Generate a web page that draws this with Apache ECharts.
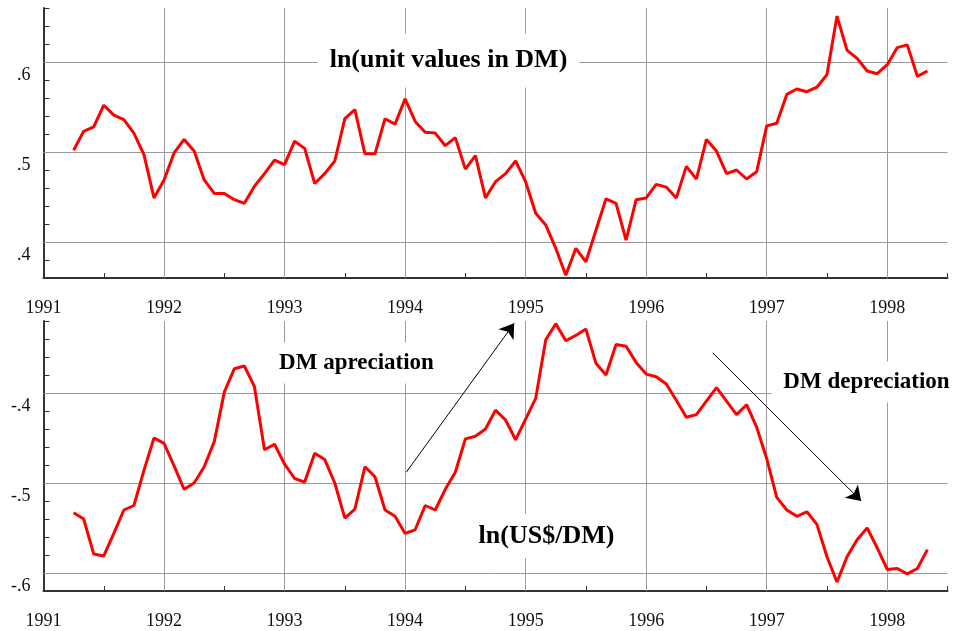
<!DOCTYPE html>
<html><head><meta charset="utf-8">
<script src="https://cdn.jsdelivr.net/npm/echarts@6/dist/echarts.min.js"></script>
<style>html,body{margin:0;padding:0;background:#fff}#c{width:953px;height:631px}</style>
</head><body><div id="c"></div>
<script>
// ---- data ----
const firstYear = 1991, firstMonth = 4; // first observation: April 1991 (monthly)
const xRange = [1991, 1998.5];
const yearLines = [1992, 1993, 1994, 1995, 1996, 1997, 1998];
const topRange = [0.36, 0.66];
const topGrid = [0.4, 0.5, 0.6];
const bottomRange = [-0.62, -0.32];
const bottomGrid = [-0.6, -0.5, -0.4];

const unitValuesDM = [
  0.502, 0.523, 0.528, 0.552, 0.541, 0.536, 0.521, 0.497, 0.449,
  0.469, 0.499, 0.514, 0.501, 0.469, 0.454, 0.454, 0.447, 0.443, 0.462, 0.476, 0.491, 0.486,
  0.512, 0.504, 0.465, 0.476, 0.490, 0.537, 0.547, 0.498, 0.498, 0.537, 0.531, 0.559,
  0.534, 0.522, 0.521, 0.507, 0.516, 0.481, 0.496, 0.449, 0.467, 0.476, 0.490, 0.467,
  0.432, 0.419, 0.393, 0.363, 0.393, 0.378, 0.413, 0.448, 0.443, 0.402, 0.447, 0.449,
  0.464, 0.461, 0.449, 0.484, 0.470, 0.514, 0.501, 0.476, 0.480, 0.470, 0.478, 0.529,
  0.532, 0.564, 0.570, 0.567, 0.572, 0.586, 0.651, 0.613, 0.604, 0.590, 0.587, 0.597,
  0.616, 0.619, 0.584, 0.590
];
const usdPerDM = [
  -0.533, -0.540, -0.579, -0.581, -0.556, -0.530, -0.525, -0.486, -0.450,
  -0.456, -0.481, -0.507, -0.500, -0.482, -0.454, -0.399, -0.373, -0.370, -0.393, -0.463, -0.457, -0.479,
  -0.495, -0.499, -0.467, -0.474, -0.500, -0.539, -0.529, -0.482, -0.493, -0.530, -0.537, -0.556,
  -0.552, -0.525, -0.530, -0.507, -0.488, -0.451, -0.448, -0.440, -0.419, -0.430, -0.452, -0.429,
  -0.406, -0.341, -0.323, -0.342, -0.336, -0.329, -0.367, -0.380, -0.346, -0.348, -0.366, -0.379,
  -0.382, -0.390, -0.408, -0.427, -0.424, -0.409, -0.394, -0.409, -0.424, -0.413, -0.438, -0.473,
  -0.516, -0.530, -0.537, -0.532, -0.546, -0.582, -0.610, -0.582, -0.563, -0.550, -0.572, -0.596,
  -0.595, -0.601, -0.595, -0.574
];
// arrows (data coordinates on lower panel)
const appreciationArrow = [[1994.01, -0.488], [1994.905, -0.3226]];
const depreciationArrow = [[1996.554, -0.3556], [1997.784, -0.52]];

// ---- chart ----
const periods = unitValuesDM.map((_, k) => firstYear + (firstMonth - 1 + k) / 12);
const topPairs = periods.map((x, k) => [x, unitValuesDM[k]]);
const botPairs = periods.map((x, k) => [x, usdPerDM[k]]);

const FONT = "'Liberation Serif', 'Times New Roman', serif";
const AXIS_COLOR = '#333';
const GRID_COLOR = '#9a9a9a';

function xAxis(gridIndex) {
  return {
    type: 'value', gridIndex, min: xRange[0], max: xRange[1], interval: 0.5,
    axisLine: { show: true, onZero: false, lineStyle: { color: AXIS_COLOR, width: 2 } },
    axisTick: { show: true, inside: true, length: 5, lineStyle: { color: AXIS_COLOR, width: 1 } },
    splitLine: { show: false },
    axisLabel: {
      margin: 21, color: '#111', fontFamily: FONT, fontSize: 18,
      formatter: v => Math.abs(v - Math.round(v)) < 1e-6 ? String(Math.round(v)) : ''
    }
  };
}
function yAxis(gridIndex, range, labelled) {
  return {
    type: 'value', gridIndex, min: range[0], max: range[1], interval: 0.02,
    axisLine: { show: true, onZero: false, lineStyle: { color: AXIS_COLOR, width: 2 } },
    axisTick: { show: true, inside: true, length: 6, lineStyle: { color: AXIS_COLOR, width: 1 } },
    splitLine: { show: false },
    axisLabel: {
      margin: 13, color: '#111', fontFamily: FONT, fontSize: 18,
      verticalAlign: 'top', padding: [4, 0, 0, 0],
      formatter: v => {
        const hit = labelled.find(t => Math.abs(t - v) < 1e-6);
        if (hit === undefined) return '';
        const r = Math.round(hit * 10);
        return (r < 0 ? '-' : '') + '.' + Math.abs(r);
      }
    }
  };
}
function gridSeries(xi, yi, pairs, lines) {
  return {
    type: 'line', xAxisIndex: xi, yAxisIndex: yi, data: pairs, silent: true,
    showSymbol: false, lineStyle: { opacity: 0 }, z: 1,
    markLine: {
      silent: true, symbol: 'none', z: 1, animation: false,
      label: { show: false },
      lineStyle: { color: GRID_COLOR, width: 1, type: 'solid' },
      data: lines.map(v => ({ yAxis: v })).concat(yearLines.map(v => ({ xAxis: v })))
    }
  };
}

const chart = echarts.init(document.getElementById('c'), null, { renderer: 'canvas' });
chart.setOption({
  animation: false,
  backgroundColor: '#fff',
  grid: [
    { left: 43.5, right: 5.5, top: 8, height: 270 },
    { left: 43.5, right: 5.5, top: 321, height: 270 }
  ],
  xAxis: [xAxis(0), xAxis(1)],
  yAxis: [yAxis(0, topRange, topGrid), yAxis(1, bottomRange, bottomGrid)],
  series: [
    gridSeries(0, 0, topPairs, topGrid),
    gridSeries(1, 1, botPairs, bottomGrid),
    {
      name: 'ln(unit values in DM)', type: 'line', xAxisIndex: 0, yAxisIndex: 0,
      data: topPairs, showSymbol: false, z: 5,
      lineStyle: { color: '#ff0000', width: 3 }
    },
    {
      name: 'ln(US$/DM)', type: 'line', xAxisIndex: 1, yAxisIndex: 1,
      data: botPairs, showSymbol: false, z: 5,
      lineStyle: { color: '#ff0000', width: 3 },
      markLine: {
        silent: true, z: 6, animation: false,
        symbol: ['none', 'arrow'], symbolSize: 14,
        label: { show: false },
        itemStyle: { color: '#000' },
        lineStyle: { color: '#000', width: 1, type: 'solid' },
        data: [
          [{ coord: appreciationArrow[0] }, { coord: appreciationArrow[1] }],
          [{ coord: depreciationArrow[0] }, { coord: depreciationArrow[1] }]
        ]
      }
    }
  ],
  graphic: [
    { type: 'text', x: 448.5, y: 60.5, z: 100,
      style: { text: 'ln(unit values in DM)', font: 'bold 26px ' + FONT, fill: '#000',
        align: 'center', verticalAlign: 'middle', backgroundColor: '#fff', padding: [14, 12] } },
    { type: 'text', x: 356.5, y: 363, z: 100,
      style: { text: 'DM apreciation', font: 'bold 23px ' + FONT, fill: '#000',
        align: 'center', verticalAlign: 'middle', backgroundColor: '#fff', padding: [9, 10] } },
    { type: 'text', x: 546.5, y: 536, z: 100,
      style: { text: 'ln(US$/DM)', font: 'bold 26px ' + FONT, fill: '#000',
        align: 'center', verticalAlign: 'middle', backgroundColor: '#fff', padding: [9, 10] } },
    { type: 'text', x: 866.5, y: 382, z: 100,
      style: { text: 'DM depreciation', font: 'bold 23px ' + FONT, fill: '#000',
        align: 'center', verticalAlign: 'middle', backgroundColor: '#fff', padding: [9, 12] } }
  ]
});
</script>
</body></html>
